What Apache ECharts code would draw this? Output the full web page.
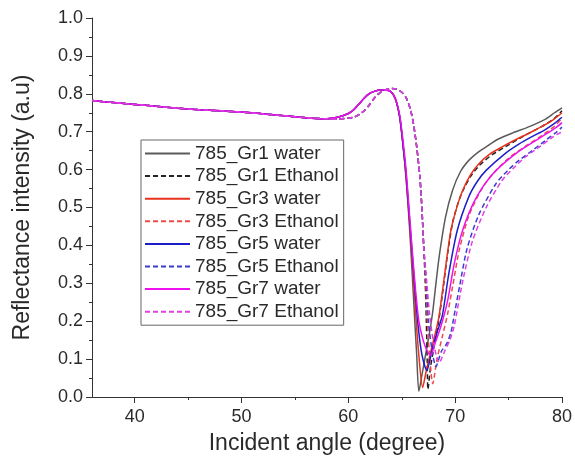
<!DOCTYPE html>
<html><head><meta charset="utf-8">
<script src="https://cdn.jsdelivr.net/npm/echarts@6/dist/echarts.min.js"></script>
<style>html,body{margin:0;padding:0;background:#fff}#c{width:575px;height:472px}</style>
</head><body><div id="c"></div>
<script>
// Series names (legend order)
const seriesNames = ['785_Gr1 water','785_Gr1 Ethanol','785_Gr3 water','785_Gr3 Ethanol','785_Gr5 water','785_Gr5 Ethanol','785_Gr7 water','785_Gr7 Ethanol'];
const seriesColors = ['#5a5a5a','#222222','#e8321e','#ee4a4a','#1e1ec8','#3c3cd2','#ee10ee','#e040e0'];
const seriesDashed = [false,true,false,true,false,true,false,true];

// Shared low-angle part (all curves overlap there)
const waterBase = [[36,0.782],[38,0.777],[40,0.772],[42,0.767],[44,0.762],[46,0.758],[48,0.755],[50,0.752],[52,0.747],[54,0.742],[56,0.737],[57,0.735],[58,0.734],[59,0.738],[60,0.748],[60.5,0.758],[61,0.773],[61.5,0.789],[62,0.801],[62.5,0.807],[63,0.810],[63.5,0.810],[64,0.805],[64.4,0.787]];
const ethBase = [[36,0.782],[38,0.777],[40,0.772],[42,0.767],[44,0.762],[46,0.758],[48,0.755],[50,0.752],[52,0.747],[54,0.742],[56,0.737],[57,0.735],[58,0.734],[59,0.733],[60,0.736],[60.5,0.738],[61,0.745],[61.5,0.756],[62,0.772],[62.5,0.791],[63,0.804],[63.5,0.811],[64,0.814],[64.5,0.813],[65,0.804],[65.4,0.790],[65.8,0.76],[66.1,0.72],[66.4,0.66],[66.7,0.58],[66.9,0.49],[67.05,0.40]];

// Resonance dip part of each curve
const gr1Water = [[64.8,0.74],[65.1,0.67],[65.4,0.58],[65.7,0.46],[65.95,0.34],[66.2,0.21],[66.4,0.11],[66.6,0.015],[66.9,0.06],[67.25,0.115],[67.6,0.17],[67.9,0.225],[68.2,0.30],[68.5,0.37],[69.1,0.475],[69.75,0.545],[70.5,0.595],[71.3,0.625],[72.1,0.645],[72.9,0.66],[74,0.68],[75.4,0.697],[77,0.714],[78.5,0.734],[79.3,0.750],[80,0.763]];
const gr1Eth = [[67.2,0.30],[67.3,0.20],[67.38,0.10],[67.45,0.02],[67.7,0.08],[68.0,0.13],[68.4,0.19],[68.8,0.27],[69.3,0.38],[69.8,0.465],[70.5,0.53],[71.4,0.58],[72.3,0.612],[73.5,0.64],[75,0.665],[76.5,0.69],[78,0.712],[79.2,0.733],[80,0.755]];
const gr3Water = [[64.8,0.74],[65.1,0.67],[65.4,0.58],[65.7,0.47],[66.0,0.35],[66.3,0.22],[66.6,0.11],[66.95,0.025],[67.3,0.07],[67.8,0.13],[68.2,0.175],[68.5,0.215],[69.0,0.32],[69.6,0.44],[70.2,0.505],[70.7,0.545],[71.4,0.585],[72.2,0.615],[73.2,0.64],[74.4,0.66],[75.6,0.678],[76.9,0.696],[78,0.712],[79.1,0.730],[80,0.750]];
const gr3Eth = [[67.25,0.30],[67.4,0.20],[67.6,0.11],[67.9,0.035],[68.3,0.10],[68.8,0.16],[69.3,0.22],[69.75,0.29],[70.4,0.39],[71.3,0.48],[72.5,0.55],[73.5,0.588],[75,0.63],[76.5,0.66],[78,0.688],[79.2,0.712],[80,0.735]];
const gr5Water = [[64.8,0.74],[65.1,0.67],[65.4,0.59],[65.7,0.48],[66.0,0.37],[66.3,0.26],[66.6,0.17],[66.9,0.11],[67.35,0.07],[67.8,0.12],[68.3,0.17],[68.8,0.215],[69.4,0.325],[70.2,0.44],[71.3,0.53],[72.1,0.57],[72.9,0.598],[74.7,0.643],[76,0.668],[77.2,0.687],[78.4,0.705],[79.4,0.724],[80,0.738]];
const gr5Eth = [[67.3,0.30],[67.5,0.20],[67.8,0.13],[68.2,0.08],[68.7,0.12],[69.2,0.14],[69.6,0.17],[70.0,0.23],[70.4,0.29],[71.1,0.39],[72.2,0.48],[73.8,0.562],[75,0.60],[76,0.625],[77.3,0.652],[78.5,0.678],[79.4,0.697],[80,0.712]];
const gr7Water = [[64.8,0.745],[65.1,0.68],[65.4,0.60],[65.7,0.49],[66.0,0.38],[66.3,0.28],[66.6,0.20],[67.0,0.15],[67.4,0.12],[67.7,0.11],[68.1,0.14],[68.7,0.19],[69.3,0.255],[69.9,0.35],[70.7,0.44],[71.9,0.522],[73.5,0.588],[75.7,0.643],[77.9,0.683],[79.4,0.710],[80,0.724]];
const gr7Eth = [[67.35,0.30],[67.6,0.22],[68.0,0.14],[68.5,0.09],[69,0.12],[69.5,0.15],[69.9,0.186],[70.7,0.305],[71.6,0.41],[72.9,0.50],[74.4,0.572],[75.5,0.605],[76.6,0.634],[78,0.662],[79.1,0.685],[80,0.700]];

// Axis ticks
const xLabelValues = [40,50,60,70,80];
const xMinorValues = [40,45,50,55,60,65,70,75,80];

const dips = [gr1Water,gr1Eth,gr3Water,gr3Eth,gr5Water,gr5Eth,gr7Water,gr7Eth];
const FONT = 'Liberation Sans, Arial, sans-serif';

const series = dips.map((d,i)=>({
  name: seriesNames[i],
  type: 'line',
  symbol: 'none',
  smooth: 0.25,
  data: (seriesDashed[i] ? ethBase : waterBase).concat(d),
  lineStyle: {color: seriesColors[i], width: 1.5, type: seriesDashed[i] ? [5,3] : 'solid'},
  itemStyle: {color: seriesColors[i]},
  animation: false
}));

const chart = echarts.init(document.getElementById('c'), null, {renderer:'canvas'});
chart.setOption({
  animation: false,
  backgroundColor: '#fff',
  grid: {left: 92, right: 12, top: 18, bottom: 75},
  legend: {
    orient: 'vertical', left: 141, top: 140,
    data: seriesNames,
    itemWidth: 45, itemHeight: 14, itemGap: 3.6,
    padding: [4, 5, 4, 3],
    borderColor: '#666', borderWidth: 1,
    itemStyle: {opacity: 0, borderWidth: 0},
    textStyle: {fontFamily: FONT, fontSize: 19, color: '#2a2a2a'}
  },
  xAxis: [{
    type: 'value', min: 36, max: 80,
    name: 'Incident angle (degree)', nameLocation: 'middle', nameGap: 35,
    nameTextStyle: {fontFamily: FONT, fontSize: 23, color: '#2a2a2a'},
    axisLine: {lineStyle: {color: '#333', width: 1}},
    axisTick: {show: true, customValues: xLabelValues, length: 6, lineStyle: {color:'#333'}},
    axisLabel: {customValues: xLabelValues, fontFamily: FONT, fontSize: 18, color: '#2a2a2a', margin: 11},
    splitLine: {show: false}
  },{
    type: 'value', min: 36, max: 80, position: 'bottom',
    axisLine: {show: false},
    axisTick: {show: true, customValues: xMinorValues, length: 3, lineStyle: {color:'#333'}},
    axisLabel: {show: false},
    splitLine: {show: false}
  }],
  yAxis: {
    type: 'value', min: 0, max: 1, interval: 0.1,
    name: 'Reflectance intensity (a.u)', nameLocation: 'middle', nameGap: 58,
    nameTextStyle: {fontFamily: FONT, fontSize: 23, color: '#2a2a2a'},
    axisLine: {show: true, lineStyle: {color: '#333', width: 1}},
    axisTick: {show: true, length: 6, lineStyle: {color:'#333'}},
    minorTick: {show: true, splitNumber: 2, length: 3, lineStyle: {color:'#333'}},
    axisLabel: {fontFamily: FONT, fontSize: 18, color: '#2a2a2a', margin: 9, formatter: v => v.toFixed(1)},
    splitLine: {show: false}
  },
  series: series
});
</script>
</body></html>
